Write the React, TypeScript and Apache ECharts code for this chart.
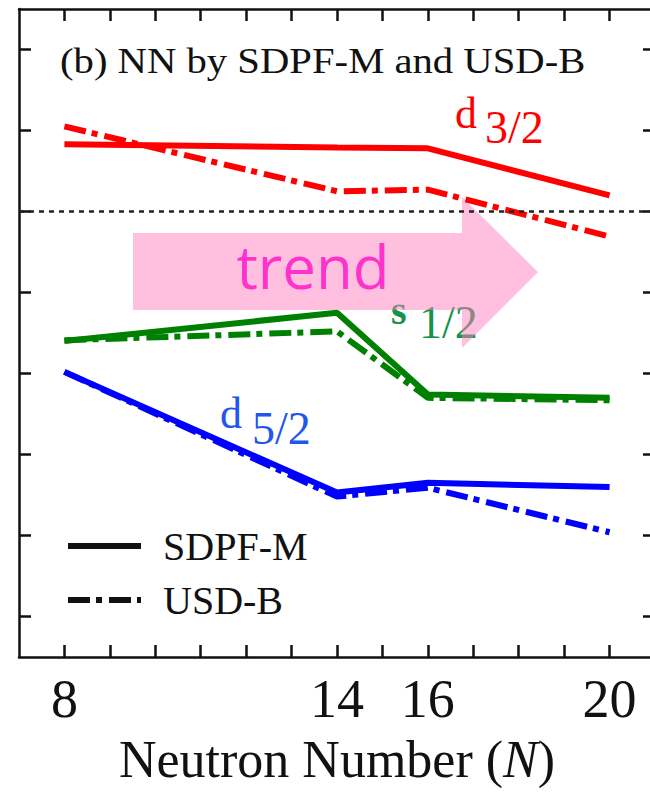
import React, { useEffect, useRef } from "react";
import * as echarts from "echarts";

const neutronNumbers = [8, 14, 16, 20];
const xTickValues = [8, 9, 10, 11, 12, 13, 14, 15, 16, 17, 18, 19, 20];
const xLabelValues = [8, 14, 16, 20];
const yTickValues = [-5, -4, -3, -2, -1, 0, 1, 2];

const d32SDPF = [0.83, 0.79, 0.78, 0.2];
const d32USDB = [1.05, 0.25, 0.27, -0.31];
const s12SDPF = [-1.6, -1.25, -2.26, -2.3];
const s12USDB = [-1.59, -1.48, -2.3, -2.33];
const d52SDPF = [-1.98, -3.47, -3.35, -3.4];
const d52USDB = [-1.98, -3.52, -3.41, -3.96];

const SERIF = "'Liberation Serif', 'Times New Roman', Times, serif";
const DASHDOT = [22, 6, 6, 7];

function pts(vals: number[]) {
  return neutronNumbers.map((n, i) => [n, vals[i]]);
}

export default function App() {
  const ref = useRef<HTMLDivElement>(null);
  useEffect(() => {
    if (!ref.current) return;
    const chart = echarts.init(ref.current, undefined, { renderer: "svg" });
    const axisLine = { show: true, onZero: false, lineStyle: { color: "#111", width: 2.5 } };
    const tick = (vals: number[]) => ({
      show: true,
      inside: true,
      length: 12,
      customValues: vals,
      lineStyle: { color: "#111", width: 2.5 },
    });
    const line = (name: string, data: number[], color: string, dash: boolean, extra: any = {}) => ({
      type: "line",
      name,
      data: pts(data),
      symbol: "none",
      showSymbol: false,
      lineStyle: { color, width: 6, type: dash ? DASHDOT : "solid" },
      itemStyle: { color },
      ...extra,
    });
    chart.setOption({
      animation: false,
      grid: { left: 19, top: 9, width: 636, height: 648, outerBoundsMode: "none", containLabel: false },
      xAxis: [
        {
          type: "value",
          min: 7,
          max: 21,
          interval: 1,
          position: "bottom",
          axisLine,
          axisTick: tick(xTickValues),
          splitLine: { show: false },
          axisLabel: {
            show: true,
            customValues: xLabelValues,
            margin: 15,
            fontFamily: SERIF,
            fontSize: 54,
            color: "#111",
          },
          name: "Neutron Number ({i|N})",
          nameLocation: "middle",
          nameGap: 76,
          nameTextStyle: {
            fontFamily: SERIF,
            fontSize: 52,
            color: "#111",
            rich: { i: { fontFamily: SERIF, fontSize: 52, fontStyle: "italic", color: "#111" } },
          },
        },
        {
          type: "value",
          min: 7,
          max: 21,
          interval: 1,
          position: "top",
          axisLine,
          axisTick: tick(xTickValues),
          splitLine: { show: false },
          axisLabel: { show: false },
        },
      ],
      yAxis: [
        {
          type: "value",
          min: -5.5,
          max: 2.5,
          position: "left",
          axisLine,
          axisTick: tick(yTickValues),
          splitLine: { show: false },
          axisLabel: { show: false },
        },
        {
          type: "value",
          min: -5.5,
          max: 2.5,
          position: "right",
          axisLine,
          axisTick: tick(yTickValues),
          splitLine: { show: false },
          axisLabel: { show: false },
        },
      ],
      legend: {
        orient: "vertical",
        left: 65,
        top: 526,
        padding: 0,
        itemWidth: 73,
        itemHeight: 14,
        itemGap: 14,
        data: ["SDPF-M", "USD-B"],
        lineStyle: { width: 6 },
        itemStyle: { color: "rgba(0,0,0,0)", borderWidth: 0, opacity: 0 },
        textStyle: { fontFamily: SERIF, fontSize: 40, color: "#111", padding: [0, 0, 0, 17] },
        selectedMode: false,
      },
      series: [
        line("d32 SDPF-M", d32SDPF, "#ff0000", false, {
          markLine: {
            silent: true,
            symbol: ["none", "none"],
            label: { show: false },
            lineStyle: { color: "#222", width: 2.5, type: [5, 5] },
            data: [{ yAxis: 0 }],
          },
        }),
        line("d32 USD-B", d32USDB, "#ff0000", true),
        line("s12 SDPF-M", s12SDPF, "#008000", false),
        line("s12 USD-B", s12USDB, "#008000", true),
        line("d52 SDPF-M", d52SDPF, "#0000ff", false),
        line("d52 USD-B", d52USDB, "#0000ff", true),
        line("SDPF-M", [], "#111", false),
        line("USD-B", [], "#111", true),
      ],
      graphic: [
        {
          type: "text",
          z: 0,
          x: 60,
          y: 61,
          scaleX: 1.13,
          style: {
            text: "(b) NN by SDPF-M and USD-B",
            font: `36px ${SERIF}`,
            fill: "#111",
            verticalAlign: "middle",
            align: "left",
          },
        },
        { type: "text", z: 0, x: 455, y: 113, style: { text: "d", font: `44px ${SERIF}`, fill: "#ff0000", verticalAlign: "middle" } },
        { type: "text", z: 0, x: 485, y: 127, style: { text: "3/2", font: `46px ${SERIF}`, fill: "#ff0000", verticalAlign: "middle" } },
        { type: "text", z: 0, x: 391, y: 310, style: { text: "s", font: `bold 40px ${SERIF}`, lineHeight: 32, fill: "#15934a", verticalAlign: "middle" } },
        { type: "text", z: 0, x: 419, y: 322, style: { text: "1/2", font: `46px ${SERIF}`, fill: "#15934a", verticalAlign: "middle" } },
        { type: "text", z: 0, x: 220, y: 413, style: { text: "d", font: `44px ${SERIF}`, fill: "#2255ee", verticalAlign: "middle" } },
        { type: "text", z: 0, x: 252, y: 428, style: { text: "5/2", font: `46px ${SERIF}`, fill: "#2255ee", verticalAlign: "middle" } },
        {
          type: "polygon",
          z: 1,
          shape: {
            points: [
              [133, 233],
              [462, 233],
              [462, 197],
              [538, 272],
              [462, 348],
              [462, 310],
              [133, 310],
            ],
          },
          style: { fill: "rgba(255,127,191,0.5)" },
        },
        {
          type: "text",
          z: 1,
          x: 313,
          y: 266,
          style: {
            text: "trend",
            font: "60px 'Open Sans', Lato, sans-serif",
            lineHeight: 46,
            fill: "#ff33cc",
            align: "center",
            verticalAlign: "middle",
          },
        },
      ],
    });
    return () => chart.dispose();
  }, []);
  return (
    <div
      ref={ref}
      style={{ position: "fixed", left: 0, top: 0, width: 650, height: 792, background: "#fff" }}
    />
  );
}
